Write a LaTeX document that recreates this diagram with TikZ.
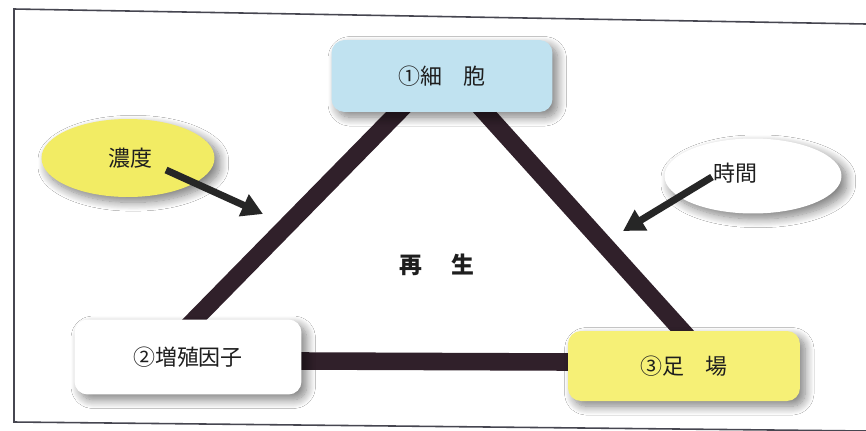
\documentclass[tikz,border=0pt]{standalone}
\usepackage{fontspec}
\setmainfont{Noto Sans CJK JP}
\usetikzlibrary{shapes.geometric,arrows.meta,calc,shadows.blur,backgrounds}
\definecolor{cellblue}{RGB}{192,226,240}
\definecolor{lyellow}{RGB}{246,240,118}
\definecolor{eyellow}{RGB}{242,236,100}
\definecolor{barcol}{RGB}{48,32,42}
\definecolor{framecol}{RGB}{70,70,80}
\definecolor{shadcol}{RGB}{90,70,110}
\definecolor{txt}{RGB}{30,30,30}
\tikzset{
  softshadow/.style={blur shadow={shadow xshift=3pt, shadow yshift=-3pt, shadow blur radius=5pt, shadow blur steps=12, shadow opacity=50, shadow blur extra rounding=2pt, fill=shadcol}},
  box/.style={draw=none, rounded corners=0.26cm, align=center, text=txt,
    font=\fontsize{12.5}{15}\selectfont, softshadow},
  oval/.style={ellipse, draw=none, inner sep=0pt, softshadow},
  lbl/.style={text=txt, font=\fontsize{12.5}{15}\selectfont},
  bar/.style={draw=barcol, line width=10pt, shorten <=-12pt, shorten >=-12pt},
  push/.style={draw=black!85, line width=4pt, -{Triangle[length=12pt,width=13pt]}}
}
\begin{document}
\begin{tikzpicture}[x=0.02cm,y=-0.02cm]
\useasboundingbox (0,0) rectangle (866,430);

% nodes
\node[box, fill=cellblue, minimum width=4.42cm, minimum height=1.44cm] (cell) at (442,76) {①細　胞};
\node[box, fill=white, minimum width=4.54cm, minimum height=1.5cm] (factor) at (188,357) {②増殖因子};
\node[box, fill=lyellow, minimum width=4.64cm, minimum height=1.4cm] (lift) at (684,366) {③足　場};
\node[oval, fill=eyellow, minimum width=3.46cm, minimum height=1.56cm] (conc) at (128,158) {};
\node[lbl] (conctext) at (130,158) {濃度};
\node[oval, fill=white, minimum width=3.54cm, minimum height=1.5cm] (time) at (753,176) {};
\node[lbl] (timetext) at (735,173) {時間};
\node[text=txt, font=\fontsize{13}{15}\selectfont\bfseries] (regen) at (437,265) {再\hspace{1.25em}生};

% background, frame and triangle bars
\begin{scope}[on background layer]
\fill[white] (0,0) rectangle (866,430);
\draw[framecol, line width=0.9pt] (866,24) -- (14,9) -- (14,422) -- (866,431);
\draw[bar] ($(cell.south)+(-44,0)$) -- ($(factor.north)+(7,0)$);
\draw[bar] ($(cell.south)+(43,0)$) -- ($(lift.north)+(-2,0)$);
\draw[bar] ($(factor.east)+(0,4)$) -- ($(lift.west)+(0,-4)$);
\end{scope}

% arrows
\coordinate (conctip) at (263,214);
\coordinate (timetip) at (623,231);
\draw[push] ($(conc.center)+(38,12)$) -- (conctip);
\draw[push] ($(time.center)+(-41,1)$) -- (timetip);
\end{tikzpicture}
\end{document}
